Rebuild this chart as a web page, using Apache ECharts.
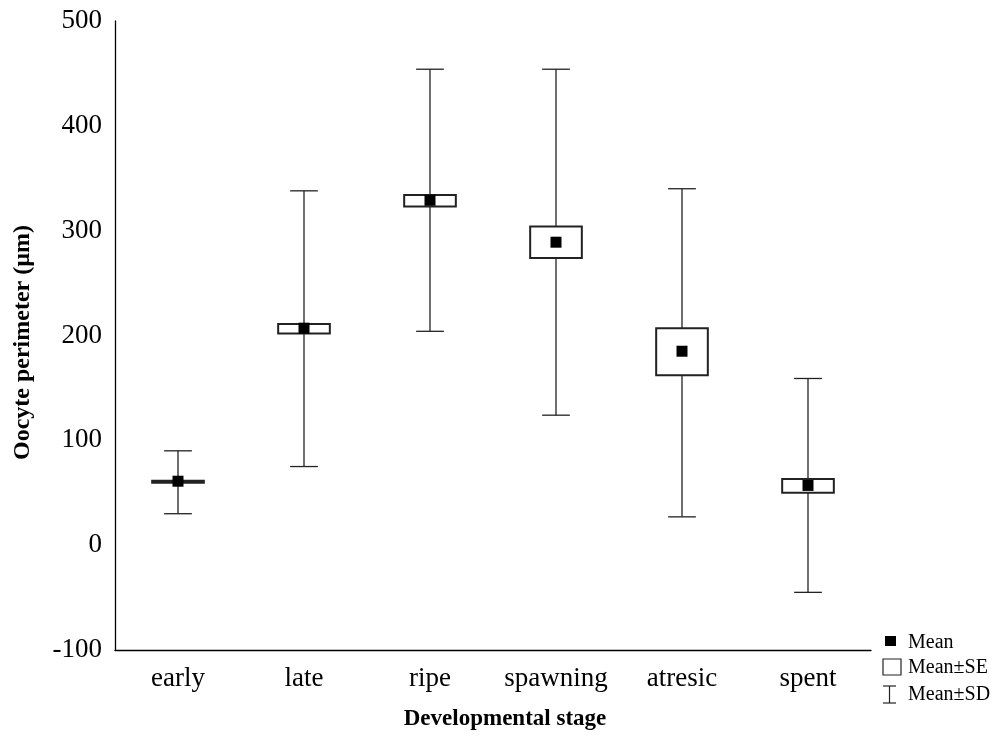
<!DOCTYPE html>
<html style="height: 100%">
<head>
	<meta charset="utf-8">
</head>
<body style="height: 100%; margin: 0; background: #fff">
<div id="container" style="width: 995px; height: 736px"></div>
<script type="text/javascript" src="https://cdn.jsdelivr.net/npm/echarts@6/dist/echarts.min.js"></script>
<script type="text/javascript">
    var stages = ['early', 'late', 'ripe', 'spawning', 'atresic', 'spent'];
    var means = [61, 207, 329, 289, 185, 57];
    var seLow = [59.5, 202, 323, 274, 162, 50];
    var seHigh = [61.5, 211, 334, 304, 207, 63];
    var sdLow = [30, 75, 204, 124, 27, -45];
    var sdHigh = [90, 338, 454, 454, 340, 159];

    var yTicks = { min: -100, max: 500, interval: 100 };

    var font = '"Liberation Serif", "Times New Roman", serif';

    var data = stages.map(function (s, i) {
        return [i, means[i], seLow[i], seHigh[i], sdLow[i], sdHigh[i]];
    });

    function renderItem(params, api) {
        var i = api.value(0);
        var band = api.size([1, 0])[0];
        var mid = api.coord([i, api.value(1)]);
        var x = mid[0];
        var seTop = api.coord([i, api.value(3)])[1];
        var seBot = api.coord([i, api.value(2)])[1];
        var sdTop = api.coord([i, api.value(5)])[1];
        var sdBot = api.coord([i, api.value(4)])[1];
        var boxW = band * 0.41;
        var capW = band * 0.22;
        var line = { stroke: '#222', lineWidth: 1.3 };
        return {
            type: 'group',
            children: [
                { type: 'line', shape: { x1: x, y1: sdTop, x2: x, y2: sdBot }, style: line },
                { type: 'line', shape: { x1: x - capW / 2, y1: sdTop, x2: x + capW / 2, y2: sdTop }, style: line },
                { type: 'line', shape: { x1: x - capW / 2, y1: sdBot, x2: x + capW / 2, y2: sdBot }, style: line },
                { type: 'rect', shape: { x: x - boxW / 2, y: seTop, width: boxW, height: Math.max(seBot - seTop, 1) },
                  style: { fill: '#fff', stroke: '#222', lineWidth: 2 } },
                { type: 'rect', shape: { x: x - 5.5, y: mid[1] - 5.5, width: 11, height: 11 },
                  style: { fill: '#000' } }
            ]
        };
    }

    var dom = document.getElementById("container");
    var myChart = echarts.init(dom);

    var legendText = { font: '20px ' + font, fill: '#000', textVerticalAlign: 'middle' };

    var option = {
        backgroundColor: '#fff',
        animation: false,
        grid: {
            left: 115,
            right: 124,
            top: 21,
            bottom: 86,
            containLabel: false,
            outerBoundsMode: 'none'
        },
        xAxis: {
            type: 'category',
            data: stages,
            name: 'Developmental stage',
            nameLocation: 'middle',
            nameGap: 58,
            nameTextStyle: { fontFamily: font, fontWeight: 'bold', fontSize: 23, color: '#000', padding: [0, 0, 0, 24] },
            axisLine: { onZero: false, lineStyle: { color: '#000', width: 1.3 } },
            axisTick: { alignWithLabel: true, interval: 0, inside: true, length: 5, lineStyle: { color: '#000' } },
            axisLabel: { interval: 0, fontFamily: font, fontSize: 27, color: '#000', margin: 15 },
            splitLine: { show: false }
        },
        yAxis: {
            type: 'value',
            min: yTicks.min,
            max: yTicks.max,
            interval: yTicks.interval,
            name: 'Oocyte perimeter (µm)',
            nameLocation: 'middle',
            nameGap: 80,
            nameTextStyle: { fontFamily: font, fontWeight: 'bold', fontSize: 24, color: '#000', padding: [0, 14, 0, 0] },
            axisLine: { show: true, lineStyle: { color: '#000', width: 1.3 } },
            axisTick: { show: false },
            axisLabel: { fontFamily: font, fontSize: 27, color: '#000', margin: 13 },
            splitLine: { show: false }
        },
        graphic: [
            { type: 'rect', x: 885, y: 636, shape: { width: 11, height: 10 }, style: { fill: '#000' } },
            { type: 'text', x: 908, y: 643, style: Object.assign({ text: 'Mean' }, legendText) },
            { type: 'rect', x: 883, y: 659, shape: { width: 18, height: 16 }, style: { fill: '#fff', stroke: '#222', lineWidth: 1.2 } },
            { type: 'text', x: 908, y: 668, style: Object.assign({ text: 'Mean±SE' }, legendText) },
            { type: 'group', x: 883, y: 686, children: [
                { type: 'line', shape: { x1: 0, y1: 0, x2: 13, y2: 0 }, style: { stroke: '#222', lineWidth: 1.2 } },
                { type: 'line', shape: { x1: 6.5, y1: 0, x2: 6.5, y2: 17 }, style: { stroke: '#222', lineWidth: 1.2 } },
                { type: 'line', shape: { x1: 0, y1: 17, x2: 13, y2: 17 }, style: { stroke: '#222', lineWidth: 1.2 } }
            ] },
            { type: 'text', x: 908, y: 695, style: Object.assign({ text: 'Mean±SD' }, legendText) }
        ],
        series: [{
            type: 'custom',
            renderItem: renderItem,
            encode: { x: 0, y: [1, 2, 3, 4, 5] },
            data: data
        }]
    };

    myChart.setOption(option);
</script>
</body>
</html>
